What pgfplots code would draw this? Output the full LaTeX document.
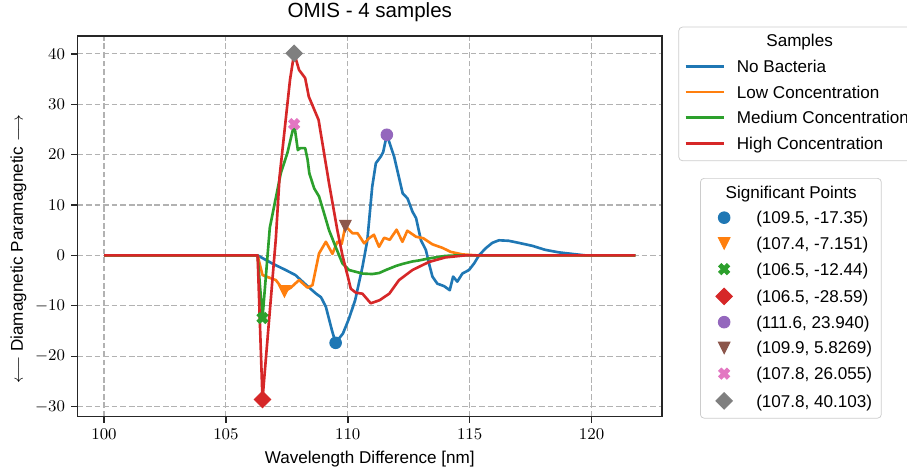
\documentclass[border=0pt]{standalone}
\usepackage[no-math]{fontspec}
\setmainfont{Liberation Sans}
\usepackage{pgfplots}
\pgfplotsset{compat=1.18}

\definecolor{C0}{HTML}{1F77B4}
\definecolor{C1}{HTML}{FF7F0E}
\definecolor{C2}{HTML}{2CA02C}
\definecolor{C3}{HTML}{D62728}
\definecolor{C4}{HTML}{9467BD}
\definecolor{C5}{HTML}{8C564B}
\definecolor{C6}{HTML}{E377C2}
\definecolor{C7}{HTML}{7F7F7F}

% matplotlib-like markers
\pgfdeclareplotmark{mpltri}{%
  \pgfpathmoveto{\pgfqpoint{0pt}{-\pgfplotmarksize}}%
  \pgfpathlineto{\pgfqpoint{-\pgfplotmarksize}{\pgfplotmarksize}}%
  \pgfpathlineto{\pgfqpoint{\pgfplotmarksize}{\pgfplotmarksize}}%
  \pgfpathclose\pgfusepathqfillstroke}
\pgfdeclareplotmark{mplD}{%
  \pgfpathmoveto{\pgfqpoint{0pt}{1.4142\pgfplotmarksize}}%
  \pgfpathlineto{\pgfqpoint{1.4142\pgfplotmarksize}{0pt}}%
  \pgfpathlineto{\pgfqpoint{0pt}{-1.4142\pgfplotmarksize}}%
  \pgfpathlineto{\pgfqpoint{-1.4142\pgfplotmarksize}{0pt}}%
  \pgfpathclose\pgfusepathqfillstroke}
\pgfdeclareplotmark{mplX}{%
  \pgfpathmoveto{\pgfqpoint{0.4714\pgfplotmarksize}{-0.9428\pgfplotmarksize}}%
  \pgfpathlineto{\pgfqpoint{0pt}{-0.4714\pgfplotmarksize}}%
  \pgfpathlineto{\pgfqpoint{-0.4714\pgfplotmarksize}{-0.9428\pgfplotmarksize}}%
  \pgfpathlineto{\pgfqpoint{-0.9428\pgfplotmarksize}{-0.4714\pgfplotmarksize}}%
  \pgfpathlineto{\pgfqpoint{-0.4714\pgfplotmarksize}{0pt}}%
  \pgfpathlineto{\pgfqpoint{-0.9428\pgfplotmarksize}{0.4714\pgfplotmarksize}}%
  \pgfpathlineto{\pgfqpoint{-0.4714\pgfplotmarksize}{0.9428\pgfplotmarksize}}%
  \pgfpathlineto{\pgfqpoint{0pt}{0.4714\pgfplotmarksize}}%
  \pgfpathlineto{\pgfqpoint{0.4714\pgfplotmarksize}{0.9428\pgfplotmarksize}}%
  \pgfpathlineto{\pgfqpoint{0.9428\pgfplotmarksize}{0.4714\pgfplotmarksize}}%
  \pgfpathlineto{\pgfqpoint{0.4714\pgfplotmarksize}{0pt}}%
  \pgfpathlineto{\pgfqpoint{0.9428\pgfplotmarksize}{-0.4714\pgfplotmarksize}}%
  \pgfpathclose\pgfusepathqfillstroke}

\pgfplotsset{
  mplframe/.style={
    width=321.5pt, height=209.4pt, scale only axis,
    xmin=98.91, xmax=122.89, ymin=-32.02, ymax=43.54,
  },
  mpllegend/.style={
    legend cell align=left,
    legend style={draw=black!20, rounded corners=2pt, fill=white,
      font=\fontsize{9.4}{11}\selectfont, inner ysep=3.8pt,
      row sep=4.85pt, anchor=north west,
      nodes={inner sep=0pt, text height=7pt, text depth=2.3pt}},
  },
  sample/.style={#1, line width=1.45pt, line join=round, mark=none},
}

\begin{document}
\begin{tikzpicture}
\begin{axis}[
  mplframe, mpllegend,
  xtick={100,105,110,115,120},
  ytick={-30,-20,-10,0,10,20,30,40},
  tick align=outside, tick pos=left,
  major tick length=3.3pt,
  tick style={line width=0.75pt, black!85},
  axis line style={line width=0.75pt, black!85},
  tick label style={font=\fontsize{9}{10}\selectfont},
  grid=major,
  major grid style={dash pattern=on 3.2pt off 1.5pt, line width=0.6pt, black!30},
  title={OMIS - 4 samples},
  title style={font=\fontsize{11.3}{13}\selectfont, at={(0.5,1)}, anchor=base, yshift=4.3pt},
  xlabel={Wavelength Difference [nm]},
  xlabel style={font=\fontsize{9.4}{11}\selectfont, at={(0.5,0)}, anchor=base, yshift=-25.6pt},
  ylabel={$\longleftarrow$ Diamagnetic Paramagnetic $\longrightarrow$},
  ylabel style={font=\fontsize{9.4}{11}\selectfont, at={(-0.101,0.44)}, anchor=center},
  legend style={at={(1.028,1.0244)}, inner xsep=3pt},
  legend image code/.code={\draw[#1] (0pt,1pt) -- (21.1pt,1pt); \path (27.5pt,1pt);},
]
\addlegendimage{empty legend}
\addlegendentry{\hspace*{16.2pt}Samples}

% No Bacteria
\addplot[sample=C0] coordinates {
  (100,0) (106.3,0) (106.9,-1.6) (107.45,-2.9) (107.85,-3.9) (108.3,-5.9)
  (108.7,-7.6) (108.9,-8.3) (109.1,-10.2) (109.35,-14.9) (109.5,-17.35)
  (109.8,-15.5) (110.05,-12.5) (110.3,-8.9) (110.6,-2.3) (110.8,3.0)
  (111.0,13.6) (111.15,18.3) (111.35,19.6) (111.45,20.5) (111.6,23.94)
  (111.9,19.6) (112.25,12.3) (112.45,11.3) (112.65,8.7) (112.8,7.4)
  (113.0,3.0) (113.2,1.1) (113.33,-1.6) (113.47,-4.2) (113.67,-5.6)
  (113.95,-6.1) (114.18,-6.9) (114.32,-4.2) (114.49,-5.2) (114.7,-3.6)
  (114.97,-2.9) (115.18,-1.6) (115.38,0) (115.65,1.4) (115.93,2.5)
  (116.2,3.0) (116.6,2.9) (117.0,2.5) (117.57,1.9) (118.1,1.1)
  (118.66,0.6) (119.2,0.3) (119.75,0) (121.8,0) };
\addlegendentry{No Bacteria}

% Low Concentration
\addplot[sample=C1] coordinates {
  (100,0) (106.3,0) (106.5,-3.9) (106.77,-4.4) (107.05,-4.9) (107.4,-7.151)
  (107.66,-6.4) (108.0,-4.9) (108.35,-6.4) (108.55,-5.9) (108.82,0.4)
  (109.1,2.7) (109.37,0.3) (109.57,2.7) (109.75,2.3) (109.9,5.8269)
  (110.19,4.4) (110.4,4.4) (110.67,2.4) (110.87,3.4) (111.07,4.1)
  (111.28,1.7) (111.49,3.5) (111.72,3.1) (112.0,5.1) (112.24,2.7)
  (112.44,4.9) (112.8,3.7) (113.1,3.4) (113.47,2.2) (113.88,1.5)
  (114.22,0.7) (114.7,0.2) (115.3,0) (121.8,0) };
\addlegendentry{Low Concentration}

% Medium Concentration
\addplot[sample=C2] coordinates {
  (100,0) (106.3,0) (106.5,-12.44) (106.8,5.5) (107.25,16.3) (107.52,20.3)
  (107.8,26.055) (107.95,20.9) (108.05,21.3) (108.25,21.3) (108.35,19.0)
  (108.42,16.3) (108.62,13.3) (108.82,11.7) (109.03,8.3) (109.23,5.0)
  (109.5,1.7) (109.78,-1.6) (110.05,-2.9) (110.6,-3.6) (111.0,-3.7)
  (111.28,-3.5) (111.56,-2.9) (111.97,-2.1) (112.24,-1.7) (112.65,-1.2)
  (112.92,-1.0) (113.33,-0.6) (114.0,-0.1) (114.5,0) (121.8,0) };
\addlegendentry{Medium Concentration}

% High Concentration
\addplot[sample=C3] coordinates {
  (100,0) (106.3,0) (106.5,-28.59) (107.05,3.5) (107.2,15.6) (107.63,34.9)
  (107.8,40.103) (108.0,36.8) (108.25,35.2) (108.4,31.5) (108.8,26.9)
  (109.23,14.3) (109.57,5.0) (109.78,0) (110.0,-4.2) (110.12,-6.6)
  (110.33,-7.4) (110.6,-7.6) (110.94,-9.5) (111.3,-8.9) (111.7,-7.6)
  (112.1,-4.9) (112.65,-2.9) (113.33,-1.3) (114.0,-0.4) (114.8,0) (121.8,0) };
\addlegendentry{High Concentration}
\end{axis}

\begin{axis}[
  mplframe, mpllegend, hide axis,
  legend style={at={(1.065,0.627)}, inner xsep=5pt},
  legend image code/.code={\path (-7.8pt,1pt) (17.4pt,1pt); \draw[#1] plot coordinates {(0pt,1pt)};},
  every axis plot/.append style={only marks, mark size=3.2pt, line width=0.5pt},
]
\addlegendimage{empty legend}
\addlegendentry{\hspace*{-16.8pt}Significant Points}
\addplot[C0, mark=*] coordinates {(109.5,-17.35)};
\addlegendentry{(109.5, -17.35)}
\addplot[C1, mark=mpltri] coordinates {(107.4,-7.151)};
\addlegendentry{(107.4, -7.151)}
\addplot[C2, mark=mplX] coordinates {(106.5,-12.44)};
\addlegendentry{(106.5, -12.44)}
\addplot[C3, mark=mplD] coordinates {(106.5,-28.59)};
\addlegendentry{(106.5, -28.59)}
\addplot[C4, mark=*] coordinates {(111.6,23.940)};
\addlegendentry{(111.6, 23.940)}
\addplot[C5, mark=mpltri] coordinates {(109.9,5.8269)};
\addlegendentry{(109.9, 5.8269)}
\addplot[C6, mark=mplX] coordinates {(107.8,26.055)};
\addlegendentry{(107.8, 26.055)}
\addplot[C7, mark=mplD] coordinates {(107.8,40.103)};
\addlegendentry{(107.8, 40.103)}
\end{axis}

\pgfresetboundingbox
\path[use as bounding box] (-42.6pt,-27.1pt) rectangle (456.2pt,229.2pt);
\end{tikzpicture}
\end{document}
